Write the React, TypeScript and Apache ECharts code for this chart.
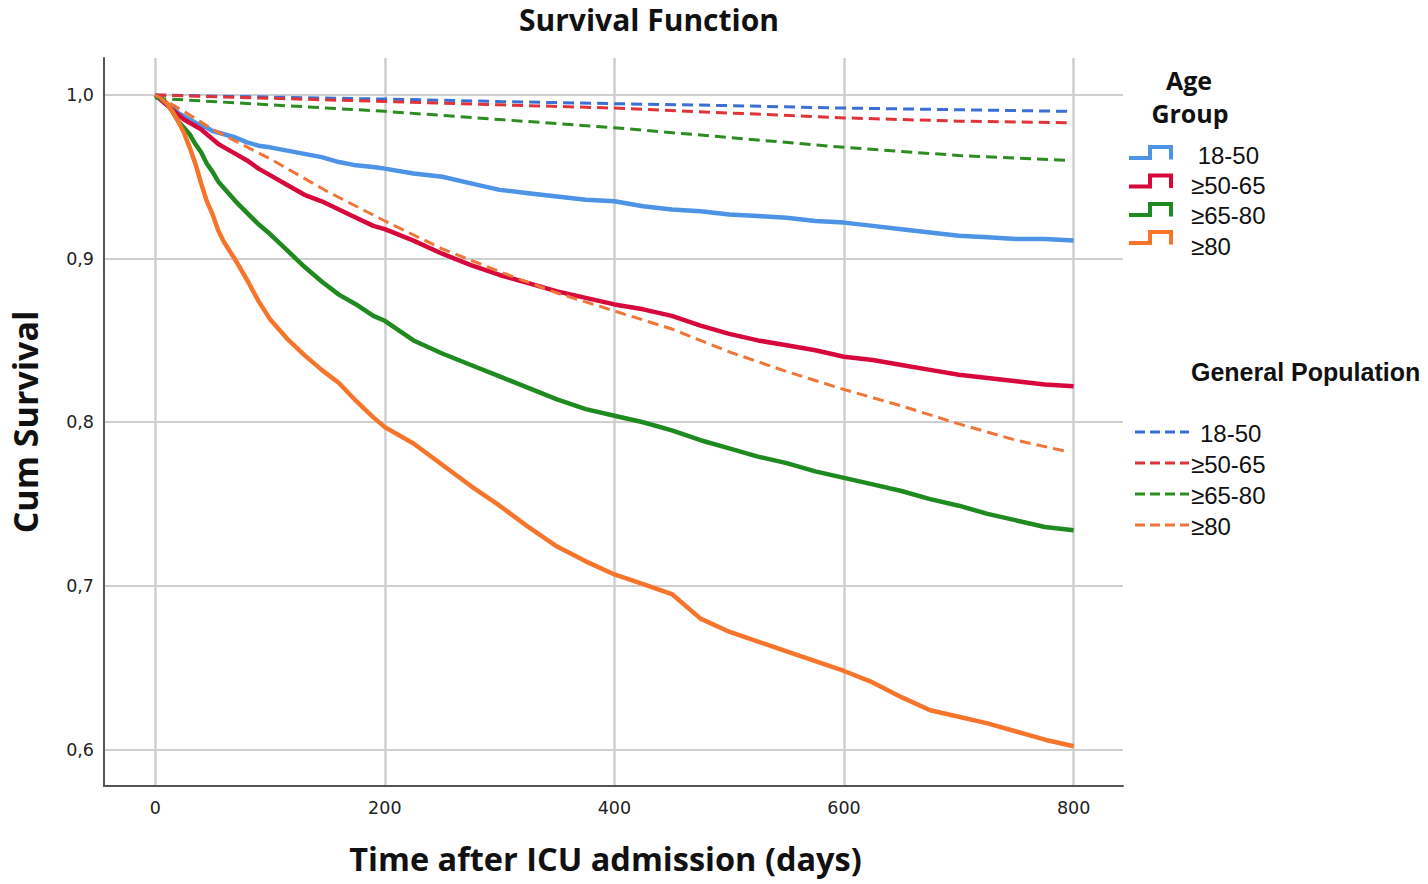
import React, { useEffect, useRef } from "react";
import * as echarts from "echarts";

// ---- Data ----
const kmDays = [0, 5, 10, 15, 20, 25, 30, 35, 40, 45, 50, 55, 60, 70, 80, 90, 100, 115, 130, 145, 160, 175, 190, 200, 225, 250, 275, 300, 325, 350, 375, 400, 425, 450, 475, 500, 525, 550, 575, 600, 625, 650, 675, 700, 725, 750, 775, 800];

const km18_50 = [1.0, 0.997, 0.994, 0.992, 0.989, 0.987, 0.985, 0.983, 0.981, 0.98, 0.978, 0.977, 0.976, 0.974, 0.971, 0.969, 0.968, 0.966, 0.964, 0.962, 0.959, 0.957, 0.956, 0.955, 0.952, 0.95, 0.946, 0.942, 0.94, 0.938, 0.936, 0.935, 0.932, 0.93, 0.929, 0.927, 0.926, 0.925, 0.923, 0.922, 0.92, 0.918, 0.916, 0.914, 0.913, 0.912, 0.912, 0.911];

const km50_65 = [1.0, 0.997, 0.994, 0.991, 0.988, 0.985, 0.983, 0.981, 0.979, 0.976, 0.973, 0.97, 0.968, 0.964, 0.96, 0.955, 0.951, 0.945, 0.939, 0.935, 0.93, 0.925, 0.92, 0.918, 0.911, 0.903, 0.896, 0.89, 0.885, 0.88, 0.876, 0.872, 0.869, 0.865, 0.859, 0.854, 0.85, 0.847, 0.844, 0.84, 0.838, 0.835, 0.832, 0.829, 0.827, 0.825, 0.823, 0.822];

const km65_80 = [1.0, 0.998, 0.995, 0.99, 0.984, 0.98, 0.976, 0.97, 0.965, 0.958, 0.953, 0.947, 0.943, 0.935, 0.928, 0.921, 0.915, 0.905, 0.895, 0.886, 0.878, 0.872, 0.865, 0.862, 0.85, 0.842, 0.835, 0.828, 0.821, 0.814, 0.808, 0.804, 0.8, 0.795, 0.789, 0.784, 0.779, 0.775, 0.77, 0.766, 0.762, 0.758, 0.753, 0.749, 0.744, 0.74, 0.736, 0.734];

const km80 = [1.0, 0.998, 0.995, 0.99, 0.984, 0.977, 0.968, 0.958, 0.946, 0.935, 0.927, 0.917, 0.91, 0.899, 0.887, 0.874, 0.863, 0.851, 0.841, 0.832, 0.824, 0.813, 0.803, 0.797, 0.787, 0.774, 0.761, 0.749, 0.736, 0.724, 0.715, 0.707, 0.701, 0.695, 0.68, 0.672, 0.666, 0.66, 0.654, 0.648, 0.641, 0.632, 0.624, 0.62, 0.616, 0.611, 0.606, 0.602];

const popDays = [0, 100, 200, 300, 400, 500, 600, 700, 795];
const pop18_50 = [1.0, 0.9987, 0.9975, 0.996, 0.9947, 0.9935, 0.992, 0.991, 0.99];
const pop50_65 = [1.0, 0.998, 0.996, 0.994, 0.992, 0.989, 0.986, 0.984, 0.983];
const pop65_80 = [0.998, 0.994, 0.99, 0.985, 0.98, 0.974, 0.968, 0.963, 0.96];

const pop80Days = [0, 25, 50, 100, 150, 200, 250, 300, 350, 400, 450, 500, 550, 600, 650, 700, 750, 795];
const pop80 = [1.0, 0.99, 0.979, 0.961, 0.941, 0.923, 0.906, 0.892, 0.879, 0.868, 0.857, 0.843, 0.831, 0.82, 0.81, 0.799, 0.789, 0.782];

const xTicks = [0, 200, 400, 600, 800];
const yTicks = [0.6, 0.7, 0.8, 0.9, 1.0];

const groupLabels = [" 18-50", "≥50-65", "≥65-80", "≥80"];
const popLabels = ["18-50", "≥50-65", "≥65-80", "≥80"];

const kmColors = ["#4d93e6", "#d6083c", "#1f8a1f", "#f7752b"];
const popColors = ["#3b6fd4", "#e0333a", "#2e8b22", "#f07538"];

const TITLE_FONT = "'Open Sans', 'DejaVu Sans', sans-serif";
const LABEL_FONT = "'Liberation Sans', Arial, sans-serif";

function pairs(days: number[], vals: number[]) {
  return days.map((d, i) => [d, vals[i]]);
}

export default function App() {
  const ref = useRef<HTMLDivElement>(null);

  useEffect(() => {
    if (!ref.current) return;
    const chart = echarts.init(ref.current, undefined, { renderer: "svg" });

    const kmSeries = [km18_50, km50_65, km65_80, km80].map((vals, i) => ({
      name: "KM " + popLabels[i],
      type: "line",
      data: pairs(kmDays, vals),
      showSymbol: false,
      symbol: "none",
      lineStyle: { color: kmColors[i], width: 4.5 },
      itemStyle: { color: kmColors[i] },
      z: 3,
    }));

    const popSeriesData = [
      pairs(popDays, pop18_50),
      pairs(popDays, pop50_65),
      pairs(popDays, pop65_80),
      pairs(pop80Days, pop80),
    ];
    const popSeries = popSeriesData.map((data, i) => ({
      name: "Pop " + popLabels[i],
      type: "line",
      data,
      showSymbol: false,
      symbol: "none",
      lineStyle: { color: popColors[i], width: 3, type: [11, 6] },
      itemStyle: { color: popColors[i] },
      z: 4,
    }));

    // Legend graphics
    const graphic: any[] = [];
    graphic.push({
      type: "text",
      x: 1189,
      y: 67,
      style: {
        text: "Age",
        font: `bold 25px ${TITLE_FONT}`,
        fill: "#111",
        align: "center",
        verticalAlign: "top",
      },
    });
    graphic.push({
      type: "text",
      x: 1190,
      y: 100,
      style: {
        text: "Group",
        font: `bold 25px ${TITLE_FONT}`,
        fill: "#111",
        align: "center",
        verticalAlign: "top",
      },
    });
    const stepBottoms = [158, 186.5, 215, 243];
    const groupTextY = [155, 185, 215, 246];
    stepBottoms.forEach((b, i) => {
      graphic.push({
        type: "polyline",
        shape: {
          points: [
            [1129, b],
            [1150, b],
            [1150, b - 11],
            [1171, b - 11],
            [1171, b + 1.5],
          ],
        },
        style: { stroke: kmColors[i], lineWidth: 4, fill: null },
      });
      graphic.push({
        type: "text",
        x: 1191,
        y: groupTextY[i],
        style: {
          text: groupLabels[i],
          font: `24px ${LABEL_FONT}`,
          fill: "#111",
          verticalAlign: "middle",
          align: "left",
        },
      });
    });
    graphic.push({
      type: "text",
      x: 1191,
      y: 372,
      style: {
        text: "General Population",
        font: `bold 25px ${LABEL_FONT}`,
        fill: "#111",
        verticalAlign: "middle",
        align: "left",
      },
    });
    const dashY = [432, 463, 494, 525];
    const popTextX = [1200, 1191, 1191, 1191];
    dashY.forEach((y, i) => {
      graphic.push({
        type: "line",
        shape: { x1: 1135, y1: y, x2: 1189, y2: y },
        style: { stroke: popColors[i], lineWidth: 3, lineDash: [10, 5] },
      });
      graphic.push({
        type: "text",
        x: popTextX[i],
        y: y + 1,
        style: {
          text: popLabels[i],
          font: `24px ${LABEL_FONT}`,
          fill: "#111",
          verticalAlign: "middle",
          align: "left",
        },
      });
    });

    // Main title
    graphic.push({
      type: "text",
      x: 649,
      y: 4,
      style: {
        text: "Survival Function",
        font: `bold 30px ${TITLE_FONT}`,
        fill: "#111",
        align: "center",
        verticalAlign: "top",
      },
    });

    const option: any = {
      animation: false,
      backgroundColor: "#ffffff",
      grid: { left: 102, right: 305, top: 58, bottom: 98, containLabel: false },
      xAxis: {
        type: "value",
        min: -44.6,
        max: 843,
        name: "Time after ICU admission (days)",
        nameLocation: "middle",
        nameGap: 56,
        nameTextStyle: {
          fontFamily: TITLE_FONT,
          fontWeight: "bold",
          fontSize: 32.5,
          color: "#111",
          padding: [0, 16, 0, 0],
        },
        axisLine: { show: true, onZero: false, lineStyle: { color: "#555", width: 2 } },
        axisTick: { show: false, customValues: xTicks },
        axisLabel: {
          customValues: xTicks,
          margin: 13,
          fontFamily: "'DejaVu Sans', sans-serif",
          fontSize: 17.5,
          color: "#222",
        },
        splitLine: { show: true, lineStyle: { color: "#cfcfcf", width: 2.5 } },
      },
      yAxis: {
        type: "value",
        min: 0.5777,
        max: 1.0226,
        name: "Cum Survival",
        nameLocation: "middle",
        nameGap: 62,
        nameRotate: 90,
        nameTextStyle: {
          fontFamily: TITLE_FONT,
          fontWeight: "bold",
          fontSize: 34,
          color: "#111",
        },
        axisLine: { show: true, onZero: false, lineStyle: { color: "#555", width: 2 } },
        axisTick: { show: false, customValues: yTicks },
        axisLabel: {
          customValues: yTicks,
          margin: 10,
          fontFamily: "'DejaVu Sans', sans-serif",
          fontSize: 17.5,
          color: "#222",
          formatter: (v: number) => v.toFixed(1).replace(".", ","),
        },
        splitLine: { show: true, lineStyle: { color: "#cfcfcf", width: 2 } },
      },
      series: [...kmSeries, ...popSeries],
      graphic,
    };

    chart.setOption(option);
    return () => chart.dispose();
  }, []);

  return (
    <div
      ref={ref}
      style={{ position: "absolute", left: 0, top: 0, width: 1428, height: 884 }}
    />
  );
}
